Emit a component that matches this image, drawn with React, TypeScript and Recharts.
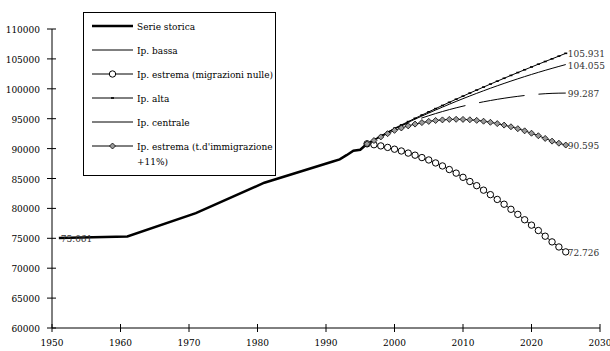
import React from 'react';
import { LineChart, Line, XAxis, YAxis } from 'recharts';

const FONT = '"DejaVu Serif Condensed", "DejaVu Serif", serif';
const txt: React.CSSProperties = { fontFamily: FONT, fontStretch: 'condensed' };

// serie storica (censimenti + anni recenti)
const histYears = [1951, 1961, 1971, 1981, 1991, 1992, 1993, 1994, 1995, 1996];
const histValues = [75061, 75300, 79200, 84300, 87850, 88200, 88900, 89650, 89800, 90800];

// anni delle proiezioni
const projYears = [
  1996, 1997, 1998, 1999, 2000, 2001, 2002, 2003, 2004, 2005,
  2006, 2007, 2008, 2009, 2010, 2011, 2012, 2013, 2014, 2015,
  2016, 2017, 2018, 2019, 2020, 2021, 2022, 2023, 2024, 2025,
];

const bassa = [
  90800, 91500, 92150, 92750, 93300, 93800, 94270, 94710, 95120, 95500,
  95860, 96200, 96520, 96820, 97100, 97360, 97600, 97830, 98040, 98240,
  98420, 98590, 98740, 98880, 99000, 99100, 99180, 99240, 99270, 99287,
];
const migrazioniNulle = [
  90800, 90650, 90450, 90200, 89900, 89600, 89250, 88900, 88500, 88100,
  87600, 87100, 86500, 85900, 85200, 84500, 83800, 83050, 82300, 81500,
  80700, 79850, 79000, 78100, 77200, 76300, 75350, 74400, 73550, 72726,
];
const alta = [
  90800, 91450, 92100, 92750, 93400, 93960, 94515, 95065, 95610, 96150,
  96685, 97215, 97740, 98260, 98775, 99285, 99790, 100290, 100785, 101275,
  101760, 102240, 102715, 103185, 103650, 104110, 104565, 105015, 105460, 105931,
];
const centrale = [
  90800, 91450, 92100, 92700, 93300, 93850, 94390, 94920, 95440, 95950,
  96450, 96940, 97420, 97890, 98350, 98800, 99240, 99670, 100090, 100500,
  100900, 101290, 101670, 102040, 102400, 102750, 103090, 103420, 103740, 104055,
];
const immigrazione11 = [
  90800, 91350, 91950, 92500, 93050, 93450, 93800, 94100, 94350, 94550,
  94700, 94800, 94880, 94900, 94880, 94820, 94720, 94580, 94400, 94180,
  93930, 93650, 93330, 92970, 92570, 92150, 91700, 91250, 90900, 90595,
];

const xTicks = [1950, 1960, 1970, 1980, 1990, 2000, 2010, 2020, 2030];
const yTicks = [60000, 65000, 70000, 75000, 80000, 85000, 90000, 95000, 100000, 105000, 110000];

// tabella unica per anno
const rowMap = new Map<number, any>();
const put = (years: number[], values: number[], key: string) => {
  years.forEach((yr, i) => {
    const r = rowMap.get(yr) ?? { year: yr };
    r[key] = values[i];
    rowMap.set(yr, r);
  });
};
put(histYears, histValues, 'storica');
put(projYears, bassa, 'bassa');
put(projYears, migrazioniNulle, 'nulle');
put(projYears, alta, 'alta');
put(projYears, centrale, 'centrale');
put(projYears, immigrazione11, 'imm11');
const data = Array.from(rowMap.values()).sort((a, b) => a.year - b.year);
const LAST = data.length - 1;

const fmt = (v: number) => `${Math.floor(v / 1000)}.${String(v % 1000).padStart(3, '0')}`;

const YTick = ({ x, y, payload }: any) => (
  <g>
    <line x1={x - 5} x2={x + 4} y1={y} y2={y} stroke="#000" />
    <text x={x - 12} y={y + 4} textAnchor="end" fontSize={10} style={txt} fill="#000">
      {payload.value}
    </text>
  </g>
);

const XTick = ({ x, y, payload }: any) => (
  <g>
    <line x1={x} x2={x} y1={y - 4} y2={y + 4} stroke="#000" />
    <text x={x} y={y + 18} textAnchor="middle" fontSize={10} style={txt} fill="#000">
      {payload.value}
    </text>
  </g>
);

const endLabel = (which: number) => (p: any) => {
  if (p.index !== which || p.value == null) return <g />;
  return (
    <text x={p.x + 2} y={p.y + 4} fontSize={10} style={txt} fill="#333">
      {fmt(p.value)}
    </text>
  );
};

const CircleDot = ({ cx, cy, value }: any) =>
  value == null ? <g /> : <circle cx={cx} cy={cy} r={3.2} fill="#fff" stroke="#000" strokeWidth={1} />;

const DiamondDot = ({ cx, cy, value }: any) =>
  value == null ? (
    <g />
  ) : (
    <path d={`M${cx},${cy - 3}L${cx + 3},${cy}L${cx},${cy + 3}L${cx - 3},${cy}Z`} fill="#9a9a9a" stroke="#000" strokeWidth={0.8} />
  );

const DashDot = ({ cx, cy, value }: any) =>
  value == null ? <g /> : <line x1={cx - 1.5} x2={cx + 1.5} y1={cy} y2={cy} stroke="#000" strokeWidth={1.6} />;

const legendRows = [
  { name: 'Serie storica', width: 2.5, mark: null },
  { name: 'Ip. bassa', width: 1, mark: null },
  { name: 'Ip. estrema (migrazioni nulle)', width: 1, mark: 'circle' },
  { name: 'Ip. alta', width: 1, mark: 'dash' },
  { name: 'Ip. centrale', width: 1, mark: null },
  { name: 'Ip. estrema (t.d\'immigrazione', width: 1, mark: 'diamond', extra: '+11%)' },
];

const LegendBox = () => (
  <div
    style={{
      position: 'absolute',
      left: 83,
      top: 12,
      width: 191,
      height: 162,
      border: '1px solid #000',
      background: '#fff',
    }}
  >
    <svg width={191} height={162}>
      {legendRows.map((r, i) => {
        const cy = 13 + i * 24;
        return (
          <g key={i}>
            <line x1={8} x2={49} y1={cy} y2={cy} stroke="#000" strokeWidth={r.width} />
            {r.mark === 'circle' && <circle cx={28.5} cy={cy} r={3.2} fill="#fff" stroke="#000" />}
            {r.mark === 'diamond' && (
              <path d={`M28.5,${cy - 3}L31.5,${cy}L28.5,${cy + 3}L25.5,${cy}Z`} fill="#9a9a9a" stroke="#000" strokeWidth={0.8} />
            )}
            {r.mark === 'dash' && <line x1={27} x2={30} y1={cy} y2={cy} stroke="#000" strokeWidth={1.6} />}
            <text x={53} y={cy + 4} fontSize={10} style={txt} fill="#000">
              {r.name}
            </text>
            {r.extra && (
              <text x={53} y={cy + 19} fontSize={10} style={txt} fill="#000">
                {r.extra}
              </text>
            )}
          </g>
        );
      })}
    </svg>
  </div>
);

const App: React.FC = () => (
  <div style={{ position: 'absolute', left: 0, top: 0, width: 610, height: 351, background: '#fff', fontFamily: FONT }}>
    <LineChart width={610} height={351} data={data} margin={{ top: 29, right: 10, bottom: 0, left: 2 }}>
      <XAxis
        dataKey="year"
        type="number"
        domain={[1950, 2030]}
        ticks={xTicks}
        interval={0}
        height={23}
        tickSize={0}
        tickMargin={0}
        tickLine={false}
        tick={<XTick />}
        axisLine={{ stroke: '#000' }}
      />
      <YAxis
        type="number"
        domain={[60000, 110000]}
        ticks={yTicks}
        interval={0}
        width={50}
        tickSize={0}
        tickMargin={0}
        tickLine={false}
        tick={<YTick />}
        axisLine={{ stroke: '#000' }}
      />
      <Line dataKey="bassa" stroke="#000" strokeWidth={1} strokeDasharray="46 14" dot={false} activeDot={false} connectNulls isAnimationActive={false} label={endLabel(LAST)} />
      <Line dataKey="nulle" stroke="#000" strokeWidth={1} dot={<CircleDot />} activeDot={false} connectNulls isAnimationActive={false} label={endLabel(LAST)} />
      <Line dataKey="centrale" stroke="#000" strokeWidth={1} dot={false} activeDot={false} connectNulls isAnimationActive={false} label={endLabel(LAST)} />
      <Line dataKey="alta" stroke="#000" strokeWidth={1} dot={<DashDot />} activeDot={false} connectNulls isAnimationActive={false} label={endLabel(LAST)} />
      <Line dataKey="imm11" stroke="#000" strokeWidth={1} dot={<DiamondDot />} activeDot={false} connectNulls isAnimationActive={false} label={endLabel(LAST)} />
      <Line dataKey="storica" stroke="#000" strokeWidth={2.5} dot={false} activeDot={false} connectNulls isAnimationActive={false} label={endLabel(0)} />
    </LineChart>
    <LegendBox />
  </div>
);

export default App;
